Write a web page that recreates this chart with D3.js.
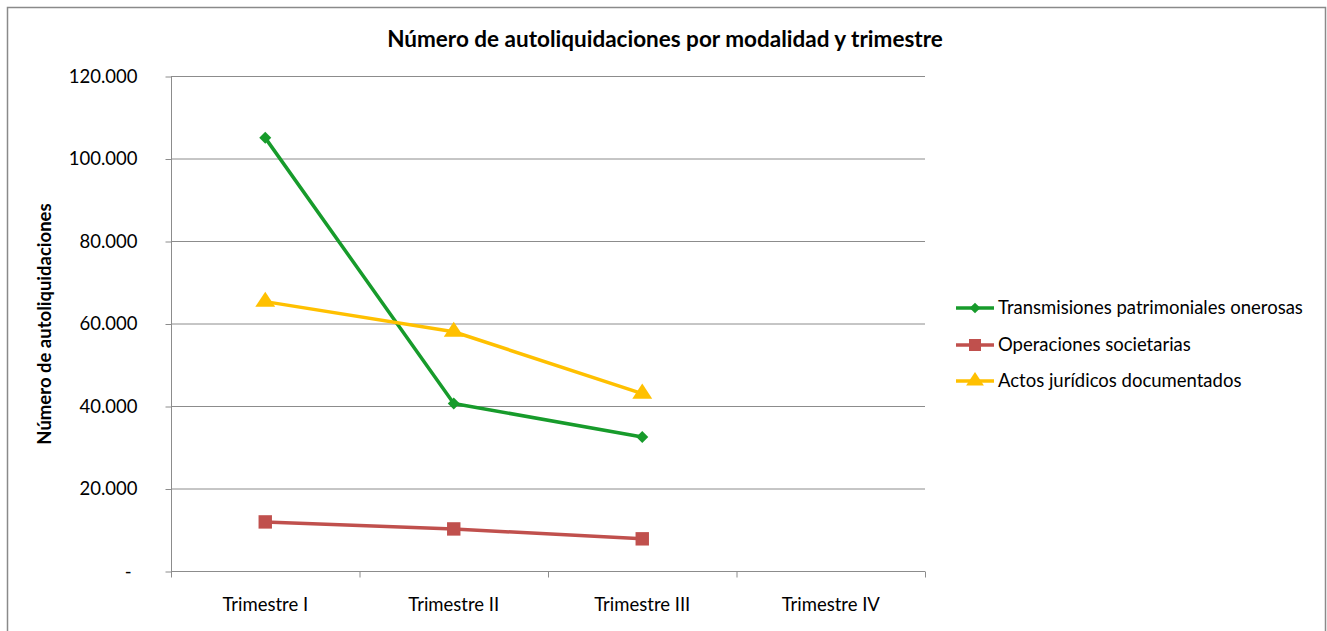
<!DOCTYPE html>
<html>
<head>
<meta charset="utf-8">
<script src="https://cdn.jsdelivr.net/npm/d3@7"></script>
<style>
  body { margin: 0; background: #fff; }
  svg text { font-family: Lato, "Open Sans", sans-serif; fill: #000; }
</style>
</head>
<body>
<svg id="chart" width="1327" height="631"></svg>
<script>
// data
var trimestres = ["Trimestre I", "Trimestre II", "Trimestre III", "Trimestre IV"]
var transmisiones = [105000, 40600, 32500, null]
var operaciones = [11900, 10200, 7800, null]
var actos = [65300, 58000, 43000, null]
var seriesNames = ["Transmisiones patrimoniales onerosas", "Operaciones societarias", "Actos jurídicos documentados"]
var yTicks = [0, 20000, 40000, 60000, 80000, 100000, 120000]

var svg = d3.select("#chart")

// outer frame
svg.append("rect")
  .attr("x", 7.5).attr("y", 7.5)
  .attr("width", 1318).attr("height", 640)
  .attr("fill", "none").attr("stroke", "#8a8a8a").attr("stroke-width", 1.5)

var plotL = 171, plotR = 925, plotT = 76, plotB = 571
var labelSize = "18.5px"

var x = d3.scaleBand().domain(trimestres).range([plotL, plotR])
var y = d3.scaleLinear().domain([0, 120000]).range([plotB, plotT])

function fmt(v) {
  if (v === 0) return "-"
  return d3.format(",")(v).replace(/,/g, ".")
}

// gridlines
svg.append("g")
  .selectAll("line")
  .data(yTicks.filter(function(d) { return d > 0 }))
  .enter().append("line")
  .attr("x1", plotL).attr("x2", plotR)
  .attr("y1", function(d) { return y(d) + 0.5 })
  .attr("y2", function(d) { return y(d) + 0.5 })
  .attr("stroke", "#8c8c8c").attr("stroke-width", 1)

// y axis
var yAxis = svg.append("g")
  .attr("transform", "translate(" + (plotL + 0.5) + ",0.5)")
  .call(d3.axisLeft(y).tickValues(yTicks).tickSize(6).tickPadding(28).tickFormat(fmt))
yAxis.selectAll("line, path").attr("stroke", "#8c8c8c")
yAxis.select("path").attr("d", "M0," + plotT + "V" + plotB)
yAxis.selectAll("text").style("font-size", labelSize).style("font-family", "Lato, sans-serif")
// the zero tick shows a dash, set a bit left like the accounting format
yAxis.selectAll(".tick text").filter(function(d) { return d === 0 }).attr("dx", -6)

// x axis
var xAxis = svg.append("g")
  .attr("transform", "translate(0," + (plotB + 0.5) + ")")
  .call(d3.axisBottom(x).tickSize(0).tickPadding(26))
xAxis.select("path").attr("stroke", "#8c8c8c").attr("d", "M" + plotL + ",0H" + plotR)
xAxis.selectAll("text").style("font-size", labelSize).style("font-family", "Lato, sans-serif")
xAxis.selectAll(".bound")
  .data(d3.range(trimestres.length + 1))
  .enter().append("line")
  .attr("x1", function(i) { return plotL + i * x.bandwidth() + 0.5 })
  .attr("x2", function(i) { return plotL + i * x.bandwidth() + 0.5 })
  .attr("y1", 0).attr("y2", 6)
  .attr("stroke", "#8c8c8c")

// title
svg.append("text")
  .attr("x", 665).attr("y", 47)
  .attr("text-anchor", "middle")
  .style("font-size", "22.5px").style("font-weight", "bold")
  .text("Número de autoliquidaciones por modalidad y trimestre")

// y axis title
svg.append("text")
  .attr("transform", "translate(51,324) rotate(-90)")
  .attr("text-anchor", "middle")
  .style("font-size", labelSize).style("font-weight", "bold")
  .text("Número de autoliquidaciones")

// diamond = square turned 45 degrees
var series = [
  { name: seriesNames[0], values: transmisiones, color: "#179b2b", symbol: d3.symbolSquare, size: 72, rot: 45, sx: 1 },
  { name: seriesNames[1], values: operaciones, color: "#c0504d", symbol: d3.symbolSquare, size: 180, rot: 0, sx: 1 },
  { name: seriesNames[2], values: actos, color: "#ffc000", symbol: d3.symbolTriangle, size: 130, rot: 0, sx: 1.15 }
]

var line = d3.line()
  .defined(function(d) { return d != null })
  .x(function(d, i) { return x(trimestres[i]) + x.bandwidth() / 2 })
  .y(function(d) { return y(d) })

function markTransform(s, px, py) {
  return "translate(" + px + "," + py + ") rotate(" + s.rot + ") scale(" + s.sx + ",1)"
}

series.forEach(function(s) {
  svg.append("path")
    .datum(s.values)
    .attr("d", line)
    .attr("fill", "none")
    .attr("stroke", s.color)
    .attr("stroke-width", 3.5)
    .attr("stroke-linejoin", "round")

  svg.append("g")
    .selectAll("path")
    .data(s.values.map(function(v, i) { return { v: v, c: trimestres[i] } }).filter(function(d) { return d.v != null }))
    .enter().append("path")
    .attr("d", d3.symbol().type(s.symbol).size(s.size))
    .attr("transform", function(d) {
      return markTransform(s, x(d.c) + x.bandwidth() / 2, y(d.v))
    })
    .attr("fill", s.color)
})

// legend
var legend = svg.append("g")
var rowY = [308, 345, 381]
series.forEach(function(s, i) {
  var g = legend.append("g").attr("transform", "translate(0," + rowY[i] + ")")
  g.append("line")
    .attr("x1", 956).attr("x2", 994)
    .attr("stroke", s.color).attr("stroke-width", 3.5)
  g.append("path")
    .attr("d", d3.symbol().type(s.symbol).size(s.size * 0.8))
    .attr("transform", markTransform(s, 975, 0))
    .attr("fill", s.color)
  g.append("text")
    .attr("x", 998).attr("y", 6)
    .style("font-size", labelSize)
    .text(s.name)
})
</script>
</body>
</html>
